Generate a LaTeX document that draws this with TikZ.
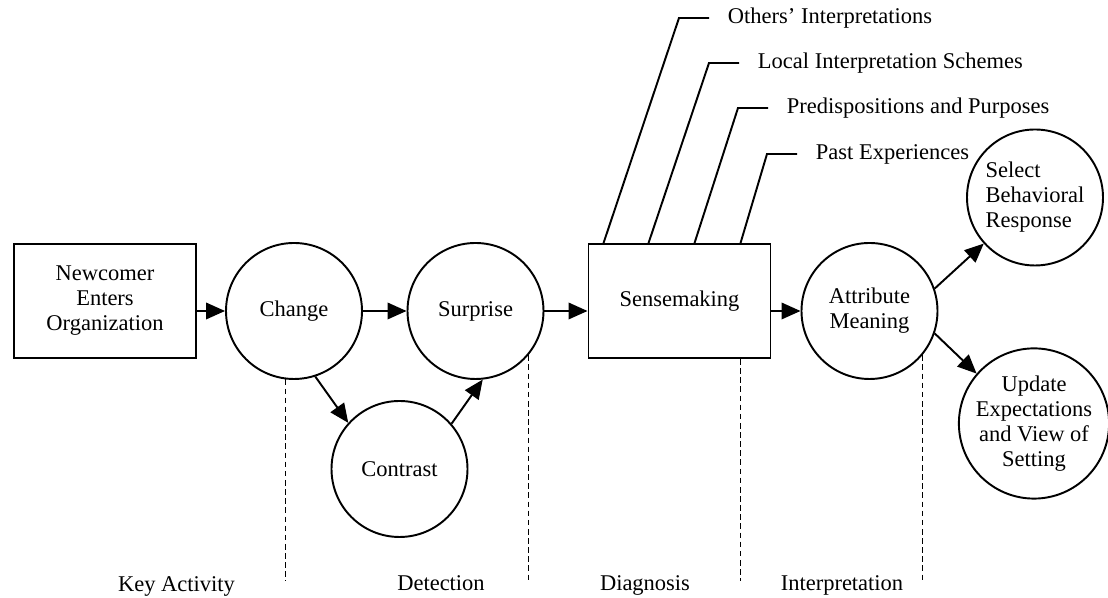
\documentclass[tikz,border=0pt]{standalone}
\usepackage{fontspec}
\setmainfont{Liberation Serif}
\usetikzlibrary{arrows.meta,positioning}

\begin{document}
\begin{tikzpicture}[font=\fontsize{12.8}{14.2}\selectfont, line width=1.1pt, >={Triangle[length=0.38cm,width=0.33cm]},
	box/.style={draw, minimum width=3.64cm, minimum height=2.28cm, align=center},
	ring/.style={draw, circle, minimum size=2.72cm, inner sep=0pt, align=center},
	lab/.style={inner sep=0pt},
	phase/.style={anchor=base},
	divider/.style={dash pattern=on 3.2pt off 2pt, line width=0.9pt}]
	\useasboundingbox (0,0) rectangle (22.16,11.96);
	\node[box] (N) at (2.10,5.94) {Newcomer\\Enters\\Organization};
	\node[ring] (CH) at (5.88,5.74) {Change};
	\node[ring] (SU) at (9.51,5.74) {Surprise};
	\node[ring] (CT) at (7.99,2.58) {Contrast};
	\node[box] (SM) at (13.59,5.94) {Sensemaking};
	\node[ring] (AM) at (17.39,5.74) {Attribute\\Meaning};
	\node[ring, align=left] (SB) at (20.70,8.01) {Select\\Behavioral\\Response};
	\node[ring] (UE) at (20.68,3.49) {Update\\Expectations\\and View of\\Setting};
	\draw[->] (N.east |- CH.west) -- (CH.west);
	\draw[->] (CH) -- (SU);
	\draw[->] (SU.east) -- (SU.east -| SM.west);
	\draw[->] (SM.east |- AM.west) -- (AM.west);
	\draw[->] (CH.-72) -- (CT.138);
	\draw[->] (CT.41) -- (SU.-84);
	\draw[->] (AM.19) -- (SB.222);
	\draw[->] (AM.-19) -- (UE.139);
	% what feeds the sensemaking
	\coordinate (k1) at (13.58,11.60);
	\coordinate (k2) at (14.18,10.70);
	\coordinate (k3) at (14.76,9.80);
	\coordinate (k4) at (15.34,8.88);
	\node[lab, right=0.96cm of k1] (OI) {Others' Interpretations};
	\node[lab, right=0.96cm of k2] (LI) {Local Interpretation Schemes};
	\node[lab, right=0.96cm of k3] (PP) {Predispositions and Purposes};
	\node[lab, right=0.96cm of k4] (PE) {Past Experiences};
	\draw ([xshift=0.32cm]SM.north west) -- (k1) -- ([xshift=-0.36cm]OI.west);
	\draw ([xshift=1.22cm]SM.north west) -- (k2) -- ([xshift=-0.36cm]LI.west);
	\draw ([xshift=2.14cm]SM.north west) -- (k3) -- ([xshift=-0.36cm]PP.west);
	\draw ([xshift=3.06cm]SM.north west) -- (k4) -- ([xshift=-0.36cm]PE.west);
	% phases
	\coordinate (base) at (0,0.33);
	\coordinate (d3) at ([xshift=-0.62cm]SM.south east);
	\draw[divider] (CH.263) -- (CH.263 |- base);
	\draw[divider] (SU.-40) -- (SU.-40 |- base);
	\draw[divider] (d3) -- (d3 |- base);
	\draw[divider] (AM.-40) -- (AM.-40 |- base);
	\node[phase] (KA) at (3.53,0.13) {Key Activity};
	\node[phase] (DT) at (8.82,0.14) {Detection};
	\node[phase] (DG) at (12.90,0.14) {Diagnosis};
	\node[phase] (IN) at (16.84,0.14) {Interpretation};
\end{tikzpicture}
\end{document}
